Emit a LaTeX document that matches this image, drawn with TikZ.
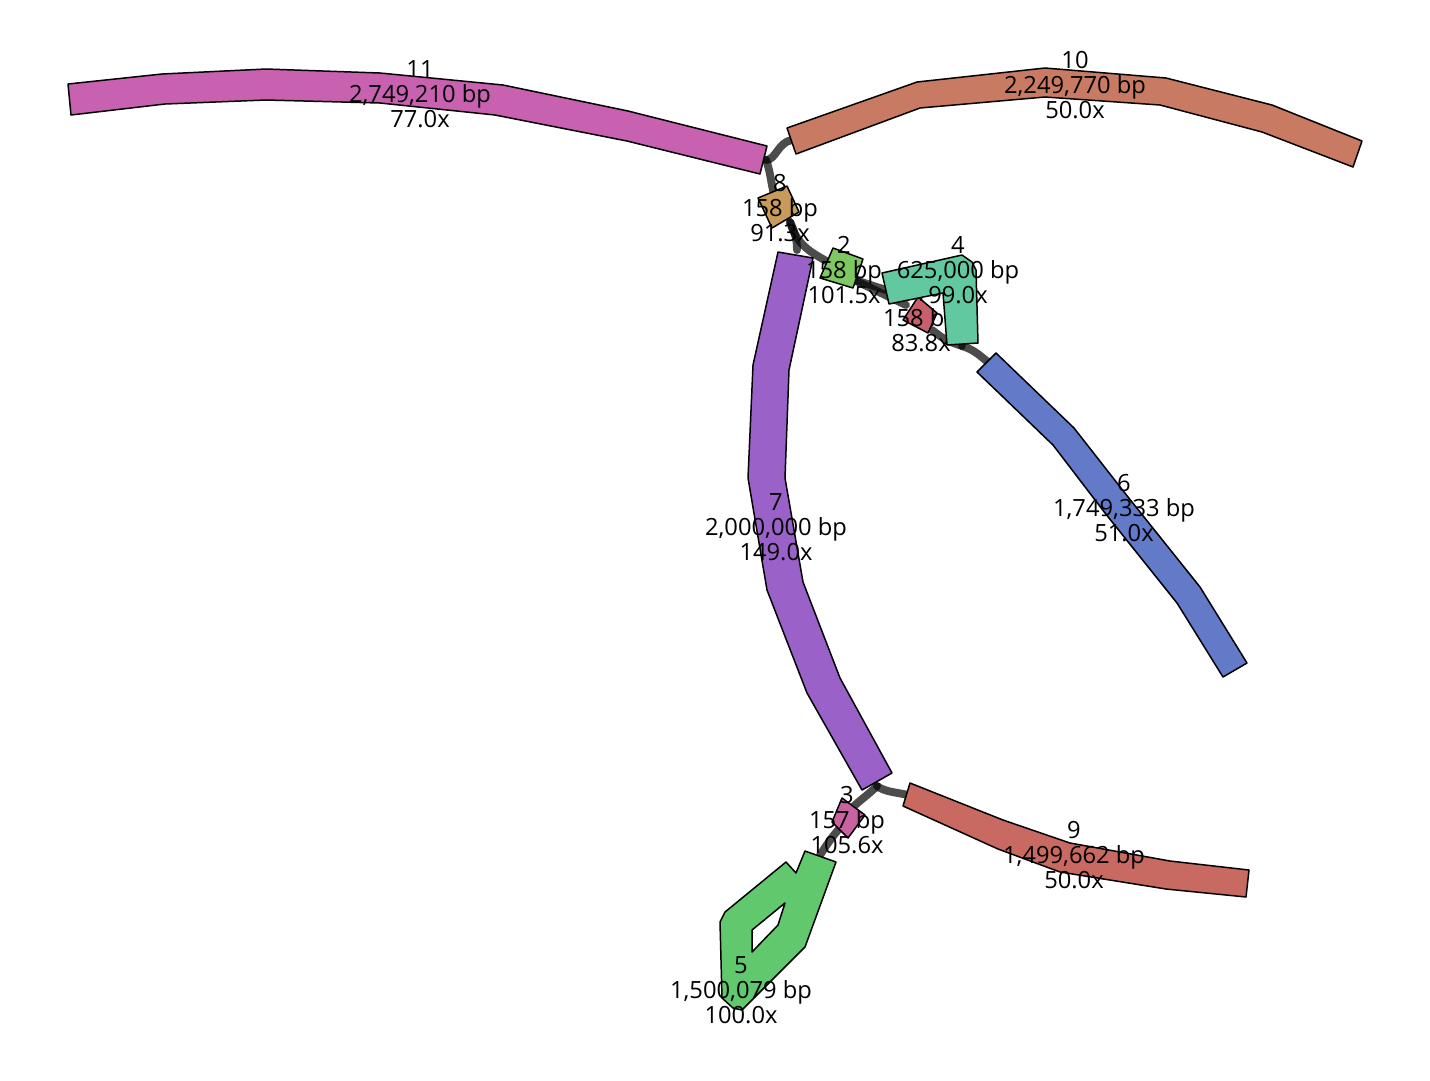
\documentclass[tikz,border=0pt]{standalone}
\usepackage{fontspec}
\setmainfont{Open Sans}
\definecolor{c11}{RGB}{200,98,176}
\definecolor{c10}{RGB}{200,123,98}
\definecolor{c8}{RGB}{200,155,90}
\definecolor{c2}{RGB}{126,200,98}
\definecolor{c4}{RGB}{98,200,160}
\definecolor{c1}{RGB}{200,96,108}
\definecolor{c6}{RGB}{98,122,200}
\definecolor{c7}{RGB}{154,98,200}
\definecolor{c9}{RGB}{200,106,98}
\definecolor{c3}{RGB}{200,98,160}
\definecolor{c5}{RGB}{98,200,110}
\tikzset{
  seg/.style={draw=black,line width=0.85pt,line join=round,fill=#1},
  link/.style={draw=black,draw opacity=0.7,line width=4.5pt,line cap=round},
  lab/.style={align=center,inner sep=0pt,font=\fontsize{13.5}{14.2}\selectfont}
}
\begin{document}
\begin{tikzpicture}[x=0.02cm,y=-0.02cm]
\useasboundingbox (0,0) rectangle (1430,1080);
% node end points
\coordinate (n11e) at (766,160);
\coordinate (n10s) at (792,140);
\coordinate (n8a) at (774,195);
\coordinate (n8b) at (790,222);
\coordinate (n7s) at (797,250);
\coordinate (n2a) at (830,263);
\coordinate (n2b) at (852,279);
\coordinate (n4s) at (886,290);
\coordinate (n1a) at (906,305);
\coordinate (n1b) at (932,330);
\coordinate (n4e) at (962,346);
\coordinate (n6s) at (988,362);
\coordinate (n7e) at (877,786);
\coordinate (n9s) at (908,795);
\coordinate (n3a) at (852,808);
\coordinate (n3b) at (838,830);
\coordinate (n5s) at (820,855);
% connectors
\draw[link] (n11e) .. controls (776,160) and (778,142) .. (n10s);
\draw[link] (n11e) .. controls (770,170) and (771,182) .. (n8a);
\draw[link] (n8b) .. controls (795,232) and (797,240) .. (n7s);
\draw[link] (n8b) .. controls (797,245) and (810,252) .. (n2a);
\draw[link] (n2b) -- (n4s);
\draw[link] (n2b) -- (n1a);
\draw[link] (n1b) .. controls (945,340) .. (n4e);
\draw[link] (n4e) .. controls (975,350) and (980,356) .. (n6s);
\draw[link] (n7e) .. controls (885,792) and (895,792) .. (n9s);
\draw[link] (n7e) .. controls (868,795) and (860,800) .. (n3a);
\draw[link] (n3b) .. controls (830,840) .. (n5s);
% segments
\path[seg=c11] (68,84) -- (162,74) -- (266,69) -- (380,73) -- (503,85) -- (628,111) -- (767,146) -- (760,174) -- (627,141) -- (495,115) -- (380,103) -- (266,100) -- (165,104) -- (71,115) -- cycle;
\path[seg=c10] (787,128) -- (917,82) -- (1045,68) -- (1166,78) -- (1272,105) -- (1362,141) -- (1353,167) -- (1262,132) -- (1160,105) -- (1045,97) -- (920,108) -- (796,154) -- cycle;
\path[seg=c7] (778,252) -- (813,258) -- (789,370) -- (785,478) -- (803,582) -- (840,678) -- (892,773) -- (862,790) -- (807,693) -- (767,590) -- (748,478) -- (753,365) -- cycle;
\path[seg=c6] (996,353) -- (1074,428) -- (1128,497) -- (1200,587) -- (1247,663) -- (1223,677) -- (1177,603) -- (1105,513) -- (1053,445) -- (977,372) -- cycle;
\path[seg=c9] (910,783) -- (1003,820) -- (1070,843) -- (1170,861) -- (1249,870) -- (1246,897) -- (1166,889) -- (1060,872) -- (998,849) -- (903,806) -- cycle;
\path[seg=c5,even odd rule] (805,851) -- (836,862) -- (805,947) -- (742,1010) -- (733,1008) -- (722,998) -- (720,922) -- (725,912) -- (786,862) -- (796,873) -- cycle
  (785,903) -- (778,925) -- (752,952) -- (752,930) -- cycle;
\path[seg=c8] (758,198) -- (787,186) -- (799,212) -- (772,228) -- cycle;
\path[seg=c2] (833,248) -- (863,259) -- (853,288) -- (820,278) -- cycle;
\path[seg=c3] (842,798) -- (865,815) -- (848,838) -- (832,822) -- cycle;
\path[seg=c1] (918,297) -- (937,313) -- (928,333) -- (903,320) -- cycle;
\node[lab] (l1) at (921,318) {1\\158 bp\\83.8x};
\path[seg=c4] (882,273) -- (962,255) -- (972,262) -- (976,270) -- (978,343) -- (947,345) -- (943,293) -- (889,304) -- cycle;
% labels
\node[lab] (l11) at (420,94) {11\\2,749,210 bp\\77.0x};
\node[lab] (l10) at (1075,85) {10\\2,249,770 bp\\50.0x};
\node[lab] (l8) at (780,208) {8\\158 bp\\91.3x};
\node[lab] (l2) at (844,270) {2\\158 bp\\101.5x};
\node[lab] (l4) at (958,270) {4\\625,000 bp\\99.0x};
\node[lab] (l7) at (776,527) {7\\2,000,000 bp\\149.0x};
\node[lab] (l6) at (1124,508) {6\\1,749,333 bp\\51.0x};
\node[lab] (l9) at (1074,855) {9\\1,499,662 bp\\50.0x};
\node[lab] (l3) at (847,820) {3\\157 bp\\105.6x};
\node[lab] (l5) at (741,990) {5\\1,500,079 bp\\100.0x};
\end{tikzpicture}
\end{document}
